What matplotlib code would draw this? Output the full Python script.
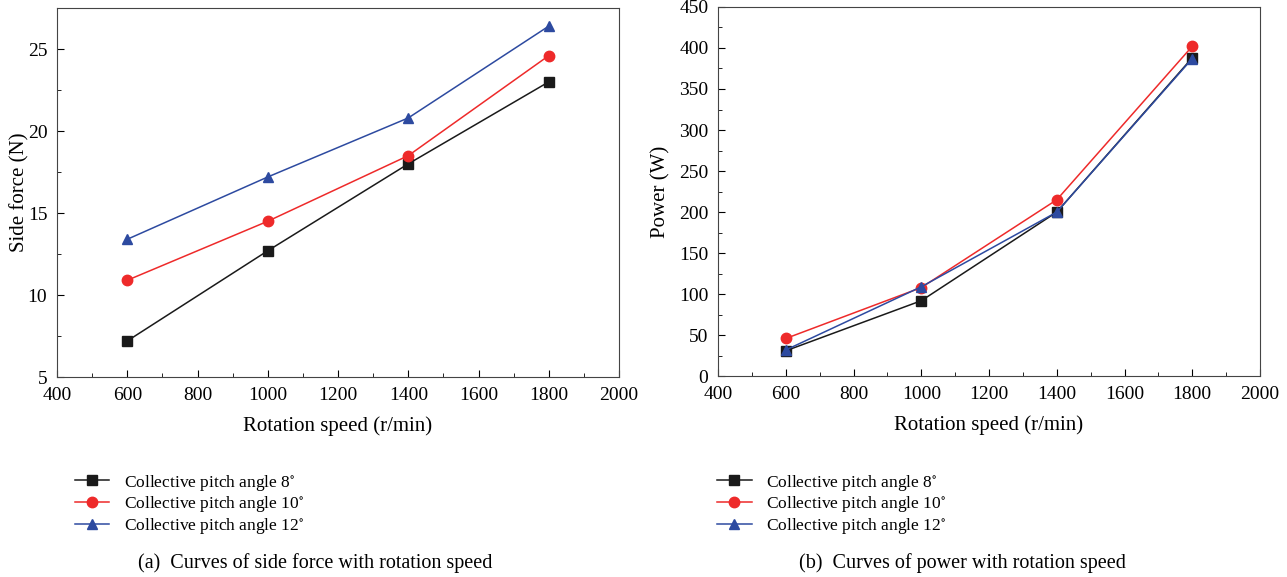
import matplotlib
matplotlib.use("Agg")
import matplotlib.pyplot as plt
from matplotlib.ticker import MultipleLocator

speed = [600, 1000, 1400, 1800]
labels = ["Collective pitch angle 8$^{\\circ}$",
          "Collective pitch angle 10$^{\\circ}$",
          "Collective pitch angle 12$^{\\circ}$"]
side_force = [
    [7.2, 12.7, 18.0, 23.0],
    [10.9, 14.5, 18.5, 24.6],
    [13.4, 17.2, 20.8, 26.4],
]
power = [
    [31, 92, 200, 388],
    [46, 108, 215, 402],
    [32, 109, 200, 387],
]
colors = ["#1a1a1a", "#ee2a2a", "#2d4aa0"]
markers = ["s", "o", "^"]

plt.rcParams["font.family"] = ["Liberation Serif", "DejaVu Serif"]
plt.rcParams["mathtext.fontset"] = "stix"

fig = plt.figure(figsize=(12.87, 5.77), dpi=100)
ax1 = fig.add_axes([0.0443, 0.3466, 0.4367, 0.6394])
ax2 = fig.add_axes([0.558, 0.348, 0.421, 0.640])


def style(ax, ylabel, ypad):
    ax.set_xlim(400, 2000)
    ax.xaxis.set_major_locator(MultipleLocator(200))
    ax.xaxis.set_minor_locator(MultipleLocator(100))
    ax.tick_params(which="both", direction="in", top=False, right=False,
                   labelsize=14, pad=7)
    ax.tick_params(which="major", length=5)
    ax.tick_params(which="minor", length=3)
    ax.set_xlabel("Rotation speed (r/min)", fontsize=15, labelpad=9)
    ax.set_ylabel(ylabel, fontsize=15, labelpad=ypad)
    for s in ax.spines.values():
        s.set_color("#444444")


handles = []
for i in range(3):
    (h,) = ax1.plot(speed, side_force[i], color=colors[i], marker=markers[i],
                    markersize=7.5, linewidth=1.1, label=labels[i])
    ax2.plot(speed, power[i], color=colors[i], marker=markers[i],
             markersize=7.5, linewidth=1.1)
    handles.append(h)

style(ax1, "Side force (N)", -1)
ax1.set_ylim(5, 27.5)
ax1.yaxis.set_major_locator(MultipleLocator(5))
ax1.yaxis.set_minor_locator(MultipleLocator(2.5))

style(ax2, "Power (W)", 6)
ax2.set_ylim(0, 450)
ax2.yaxis.set_major_locator(MultipleLocator(50))
ax2.yaxis.set_minor_locator(MultipleLocator(25))

for x0 in (0.058, 0.557):
    fig.legend(handles, labels, loc="upper left", bbox_to_anchor=(x0, 0.181),
               frameon=False, fontsize=12.5, handlelength=2.0,
               labelspacing=0.1, handletextpad=0.85, borderpad=0,
               borderaxespad=0)

fig.text(0.245, 0.024, "(a)  Curves of side force with rotation speed",
         ha="center", va="center", fontsize=14.5)
fig.text(0.748, 0.024, "(b)  Curves of power with rotation speed",
         ha="center", va="center", fontsize=14.5)

fig.savefig("out.png", dpi=100)
